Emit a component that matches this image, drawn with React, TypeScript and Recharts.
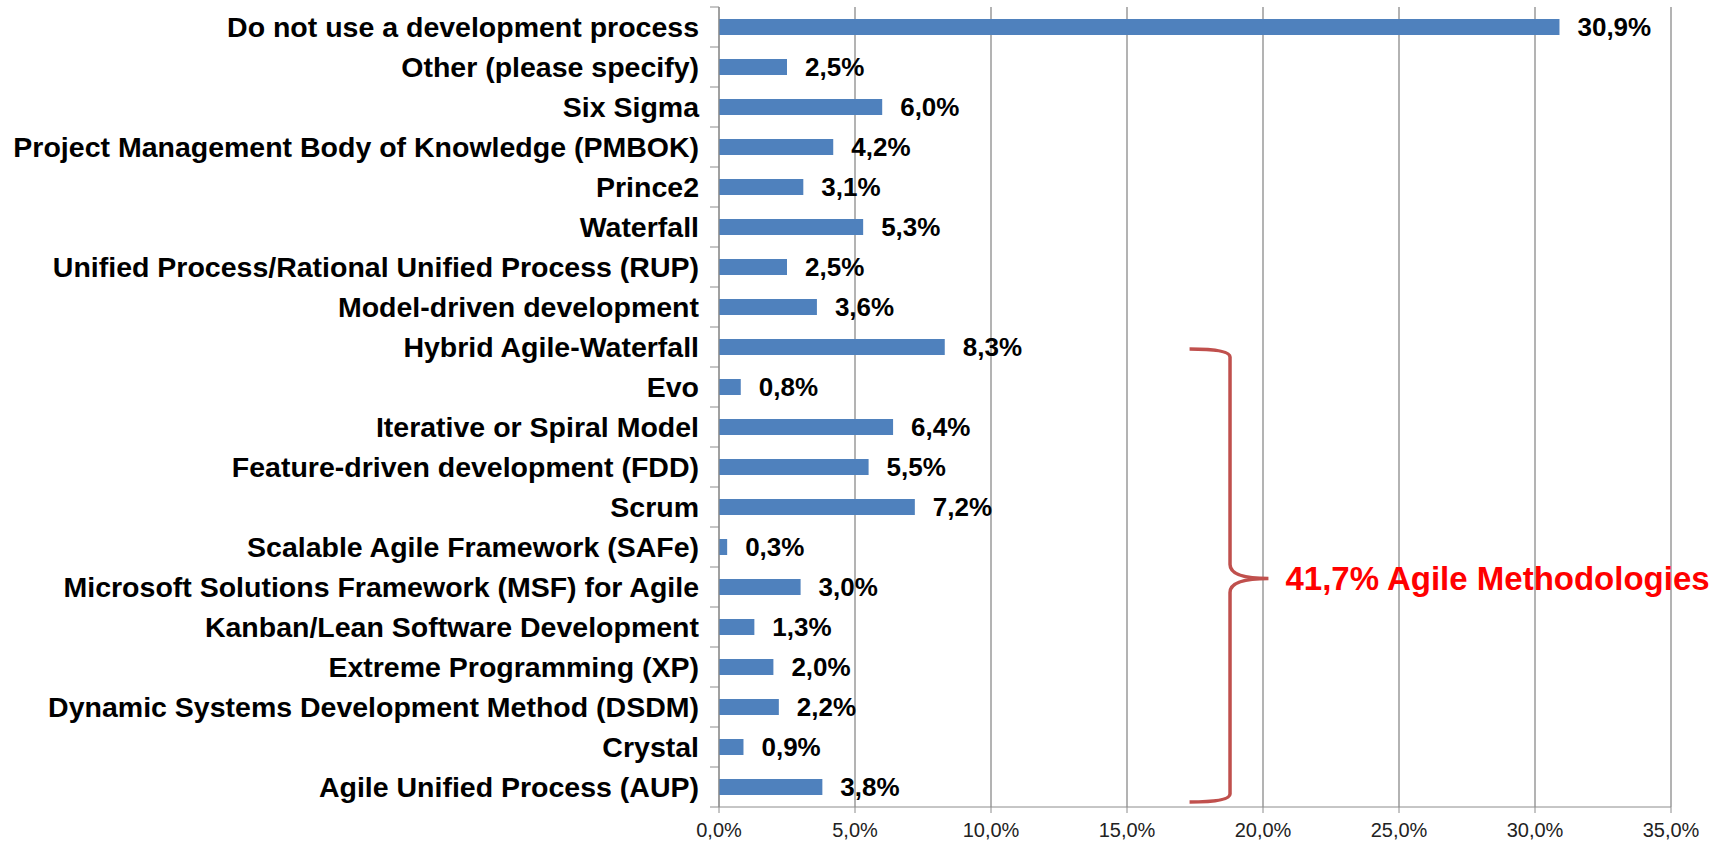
import React from "react";
import {
  BarChart,
  Bar,
  XAxis,
  YAxis,
  CartesianGrid,
  LabelList,
  ReferenceArea,
} from "recharts";

// survey answers, top to bottom as drawn
const categories = [
  "Do not use a development process",
  "Other (please specify)",
  "Six Sigma",
  "Project Management Body of Knowledge (PMBOK)",
  "Prince2",
  "Waterfall",
  "Unified Process/Rational Unified Process (RUP)",
  "Model-driven development",
  "Hybrid Agile-Waterfall",
  "Evo",
  "Iterative or Spiral Model",
  "Feature-driven development (FDD)",
  "Scrum",
  "Scalable Agile Framework (SAFe)",
  "Microsoft Solutions Framework (MSF) for Agile",
  "Kanban/Lean Software Development",
  "Extreme Programming (XP)",
  "Dynamic Systems Development Method (DSDM)",
  "Crystal",
  "Agile Unified Process (AUP)",
];

const shares = [
  30.9, 2.5, 6.0, 4.2, 3.1, 5.3, 2.5, 3.6, 8.3, 0.8, 6.4, 5.5, 7.2, 0.3, 3.0,
  1.3, 2.0, 2.2, 0.9, 3.8,
];

const xTicks = [0, 5, 10, 15, 20, 25, 30, 35];

// the bracket groups these answers
const agileFirst = "Hybrid Agile-Waterfall";
const agileLast = "Agile Unified Process (AUP)";
const agileLabel = "Agile Methodologies";

const FONT = '"Liberation Sans", Arial, sans-serif';

const data = categories.map((name, i) => ({ name, value: shares[i] }));

const agileStart = categories.indexOf(agileFirst);
const agileEnd = categories.indexOf(agileLast);
const agileTotal = shares
  .slice(agileStart, agileEnd + 1)
  .reduce((a, b) => a + b, 0)
  .toFixed(1)
  .replace(".", ",");

const pct = (v: number) => `${v.toFixed(1).replace(".", ",")}%`;

const CategoryTick = (props: any) => {
  const { x, y, payload, index } = props;
  const half = payload && payload.offset ? payload.offset : 20;
  const last = index === categories.length - 1;
  return (
    <g>
      <line x1={x + 11} x2={x + 20} y1={y - half} y2={y - half} stroke="#8c8c8c" />
      {last && (
        <line x1={x + 11} x2={x + 20} y1={y + half} y2={y + half} stroke="#8c8c8c" />
      )}
      <text
        x={x}
        y={y}
        dy="0.355em"
        textAnchor="end"
        fill="#000"
        fontFamily={FONT}
        fontWeight="bold"
        fontSize={28.5}
      >
        {payload.value}
      </text>
    </g>
  );
};

const Brace = (props: any) => {
  const { x, y, width, height } = props;
  const xL = x;
  const xT = x + width;
  const xV = x + width * 0.513;
  const top = y + 22;
  const bottom = y + height - 5;
  const mid = (top + bottom) / 2 + 3;
  const d = [
    `M ${xL} ${top}`,
    `Q ${xV} ${top} ${xV} ${top + 8}`,
    `L ${xV} ${mid - 14}`,
    `Q ${xV} ${mid} ${xT} ${mid}`,
    `Q ${xV} ${mid} ${xV} ${mid + 14}`,
    `L ${xV} ${bottom - 8}`,
    `Q ${xV} ${bottom} ${xL} ${bottom}`,
  ].join(" ");
  return (
    <g>
      <path d={d} fill="none" stroke="#C0504D" strokeWidth={3.5} />
      <text
        x={xT + 17}
        y={mid}
        dy="0.355em"
        fill="#FF0000"
        fontFamily={FONT}
        fontWeight="bold"
        fontSize={33}
      >
        {`${agileTotal}% ${agileLabel}`}
      </text>
    </g>
  );
};

export default function App() {
  return (
    <div style={{ position: "absolute", left: 0, top: 0, background: "#fff" }}>
      <BarChart
        width={1721}
        height={847}
        data={data}
        layout="vertical"
        margin={{ top: 7, right: 50, bottom: 0, left: 0 }}
      >
        <CartesianGrid horizontal={false} stroke="#9a9a9a" strokeWidth={1.5} />
        <XAxis
          type="number"
          domain={[0, 35]}
          ticks={xTicks}
          interval={0}
          height={40}
          tickSize={6}
          tickMargin={10}
          tickFormatter={pct}
          stroke="#8c8c8c"
          tick={{ fill: "#222", fontSize: 20, fontFamily: FONT }}
        />
        <YAxis
          type="category"
          dataKey="name"
          width={719}
          interval={0}
          tickSize={9}
          tickMargin={11}
          tickLine={false}
          stroke="#8c8c8c"
          tick={<CategoryTick />}
        />
        <Bar dataKey="value" fill="#4F81BD" barSize={16} isAnimationActive={false}>
          <LabelList
            dataKey="value"
            position="right"
            offset={18}
            formatter={(v: any) => pct(Number(v))}
            fill="#000"
            fontFamily={FONT}
            fontWeight="bold"
            fontSize={26}
          />
        </Bar>
        <ReferenceArea
          y1={agileFirst}
          y2={agileLast}
          x1={17.3}
          x2={20.2}
          shape={<Brace />}
        />
      </BarChart>
    </div>
  );
}
